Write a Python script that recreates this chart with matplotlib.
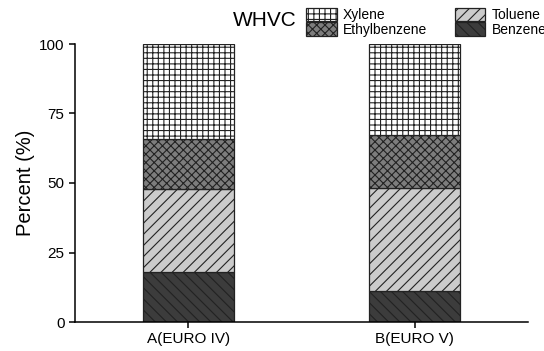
import numpy as np
import matplotlib
matplotlib.use('Agg')
import matplotlib.pyplot as plt

plt.rcParams['font.family'] = ['Liberation Sans', 'DejaVu Sans']
plt.rcParams['hatch.linewidth'] = 0.8

# data (percent composition)
categories = ['A(EURO IV)', 'B(EURO V)']
benzene = [18.0, 11.0]
toluene = [30.0, 37.3]
ethylbenzene = [18.0, 18.8]
xylene = [34.0, 32.9]

fig = plt.figure(figsize=(5.44, 3.51), dpi=100)
ax = fig.add_axes([75/544, 1-322/351, 453/544, 278/351])

x = np.arange(1, len(categories) + 1)
w = 0.4

bottom = np.zeros(len(categories))
series = [
    ('Benzene', benzene, '#3c3c3c', '\\\\\\'),
    ('Toluene', toluene, '#cbcbcb', '///'),
    ('Ethylbenzene', ethylbenzene, '#7d7d7d', 'xxxx'),
    ('Xylene', xylene, '#ffffff', '+++'),
]
bars = {}
for name, vals, col, hat in series:
    b = ax.bar(x, vals, w, bottom=bottom, color=col, hatch=hat,
               edgecolor='#222222', linewidth=0.9, label=name)
    bars[name] = b
    bottom += np.array(vals)

ax.set_xlim(0.5, 2.5)
ax.set_ylim(0, 100)
ax.set_xticks(x)
ax.set_xticklabels(categories, fontsize=11)
ax.set_yticks([0, 25, 50, 75, 100])
ax.tick_params(axis='both', direction='out', length=4, width=1.1, labelsize=11)
ax.set_ylabel('Percent (%)', fontsize=14.5, labelpad=3)
ax.spines['top'].set_visible(False)
ax.spines['right'].set_visible(False)
ax.spines['left'].set_linewidth(1.1)
ax.spines['bottom'].set_linewidth(1.1)

# legend sits in two columns and runs off the right edge like the original
order = ['Xylene', 'Ethylbenzene', 'Toluene', 'Benzene']
fig.legend([bars[n] for n in order], order, ncol=2, loc='upper left',
           bbox_to_anchor=(306/544, 1-8/351), frameon=False, fontsize=10,
           handlelength=2.2, handleheight=1.1, labelspacing=0.0,
           handletextpad=0.45, columnspacing=2.0, borderpad=0, borderaxespad=0)
fig.text(233/544, 1-20.5/351, 'WHVC', fontsize=15, ha='left', va='center')

fig.savefig('out.png', dpi=100)
